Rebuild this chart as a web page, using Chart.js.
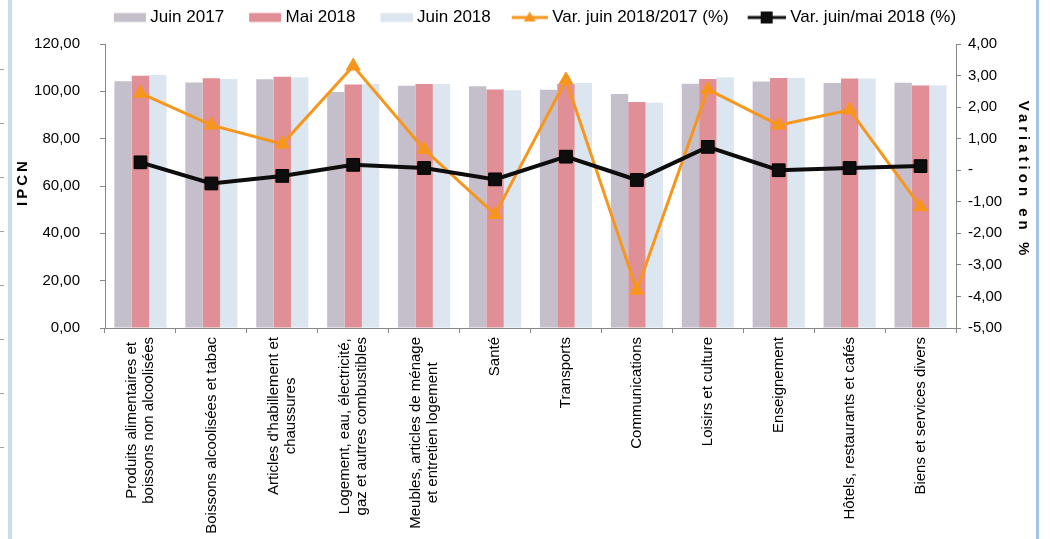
<!DOCTYPE html>
<html>
<head>
<meta charset="utf-8">
<script src="https://cdn.jsdelivr.net/npm/chart.js@4"></script>
<style>
  body { margin: 0; background: #fff; }
  .wrap { position: relative; width: 1050px; height: 539px; }
  .edge { position: absolute; top: 0; height: 539px; }
  .edge-left { left: 8px; width: 4px; background: #cadcf0; }
  .edge-right { left: 1036px; width: 3px; background: #a3c6e8; }
  .marks {
    position: absolute; left: 0; top: 69px; width: 4px; height: 390px;
    background: repeating-linear-gradient(to bottom, #a0a0a0 0px, #a0a0a0 1px, transparent 1px, transparent 54px);
  }
  canvas { position: absolute; left: 0; top: 0; }
</style>
</head>
<body>
<div class="wrap">
  <div class="edge edge-left"></div>
  <div class="edge edge-right"></div>
  <div class="marks"></div>
  <canvas id="ipcn" width="1050" height="539"></canvas>
</div>
<script>
// categories (x tick labels, split in lines as in the picture)
const categories = [
  ["Produits alimentaires et", "boissons non alcoolisées"],
  ["Boissons alcoolisées et tabac"],
  ["Articles d'habillement et", "chaussures"],
  ["Logement, eau, électricité,", "gaz et autres combustibles"],
  ["Meubles, articles de ménage", "et entretien logement"],
  ["Santé"],
  ["Transports"],
  ["Communications"],
  ["Loisirs et culture"],
  ["Enseignement"],
  ["Hôtels, restaurants et cafés"],
  ["Biens et services divers"]
];

// series values
const juin2017 = [104.3, 103.7, 105.1, 99.7, 102.4, 102.1, 100.7, 98.9, 103.2, 104.2, 103.5, 103.6];
const mai2018 = [106.6, 105.5, 106.2, 102.9, 103.1, 100.8, 103.1, 95.5, 105.2, 105.6, 105.4, 102.5];
const juin2018 = [106.9, 105.2, 105.9, 103.1, 103.1, 100.5, 103.5, 95.2, 106.0, 105.6, 105.4, 102.6];
const varAnnuelle = [2.44, 1.43, 0.83, 3.30, 0.66, -1.40, 2.86, -3.80, 2.56, 1.43, 1.91, -1.16];
const varMensuelle = [0.25, -0.42, -0.18, 0.17, 0.07, -0.29, 0.43, -0.31, 0.74, 0.00, 0.07, 0.13];

// series names and axis titles
const seriesNames = ["Juin 2017", "Mai 2018", "Juin 2018", "Var. juin 2018/2017 (%)", "Var. juin/mai 2018 (%)"];
const leftTitle = "IPCN";
const rightTitle = "Variation en %";

// colours
const grayBar = "#c5bfcb";
const redBar = "#e08f96";
const blueBar = "#dce6f0";
const orange = "#f7961d";
const black = "#0d0d0d";
const axisGray = "#878787";

const fontFamily = "'Liberation Sans', Arial, sans-serif";
Chart.defaults.font.family = fontFamily;
Chart.defaults.color = "#000";

// small legend pictures: bar swatch or line with marker
function legendIcon(kind, color, lead) {
  const c = document.createElement("canvas");
  c.width = 52;
  c.height = 16;
  const g = c.getContext("2d");
  g.fillStyle = color;
  g.strokeStyle = color;
  if (kind === "bar") {
    g.fillRect(lead, 3.5, 52 - lead, 9);
  } else {
    g.lineWidth = 3;
    g.beginPath();
    g.moveTo(lead, 8);
    g.lineTo(52, 8);
    g.stroke();
    const cx = lead + (52 - lead) / 2;
    g.beginPath();
    if (kind === "triangle") {
      g.moveTo(cx, 2);
      g.lineTo(cx + 6, 12);
      g.lineTo(cx - 6, 12);
      g.closePath();
    } else {
      g.rect(cx - 6, 2, 12, 12);
    }
    g.fill();
  }
  return c;
}

const legendIcons = [
  legendIcon("bar", grayBar, 20),
  legendIcon("bar", redBar, 20),
  legendIcon("bar", blueBar, 20),
  legendIcon("triangle", orange, 16),
  legendIcon("square", black, 14)
];

// push the plot down below the legend
const legendGap = {
  id: "legendGap",
  beforeInit(chart) {
    const fit = chart.legend.fit;
    chart.legend.fit = function () {
      fit.call(this);
      this.height += 8;
    };
  }
};

// rotated x labels, each line centred, and the two spaced axis titles
const labelsAndTitles = {
  id: "labelsAndTitles",
  afterDraw(chart) {
    const ctx = chart.ctx;
    const xs = chart.scales.x;
    const area = chart.chartArea;

    ctx.save();
    ctx.font = "15px " + fontFamily;
    ctx.fillStyle = "#000";
    ctx.textAlign = "center";
    ctx.textBaseline = "middle";
    categories.forEach((lines, i) => {
      const x = xs.getPixelForValue(i);
      const maxW = Math.max(...lines.map((l) => ctx.measureText(l).width));
      const cy = xs.top + 9 + maxW / 2;
      lines.forEach((line, j) => {
        ctx.save();
        ctx.translate(x + (j - (lines.length - 1) / 2) * 17.5, cy);
        ctx.rotate(-Math.PI / 2);
        ctx.fillText(line, 0, 0);
        ctx.restore();
      });
    });

    const midY = (area.top + area.bottom) / 2;
    ctx.font = "bold 15px " + fontFamily;
    ctx.letterSpacing = "3px";
    ctx.save();
    ctx.translate(23, midY - 4);
    ctx.rotate(-Math.PI / 2);
    ctx.fillText(leftTitle, 0, 0);
    ctx.restore();

    ctx.letterSpacing = "4px";
    ctx.save();
    ctx.translate(1023, midY - 6);
    ctx.rotate(Math.PI / 2);
    ctx.fillText(rightTitle, 0, 0);
    ctx.restore();
    ctx.restore();
  }
};

function frNumber(v) {
  return v.toFixed(2).replace(".", ",");
}

const ctx = document.getElementById("ipcn").getContext("2d");

new Chart(ctx, {
  type: "bar",
  data: {
    labels: categories.map((c) => c.join(" ")),
    datasets: [
      {
        label: seriesNames[0],
        data: juin2017,
        backgroundColor: grayBar,
        yAxisID: "y",
        categoryPercentage: 0.735,
        barPercentage: 1.0,
        order: 2
      },
      {
        label: seriesNames[1],
        data: mai2018,
        backgroundColor: redBar,
        yAxisID: "y",
        categoryPercentage: 0.735,
        barPercentage: 1.0,
        order: 2
      },
      {
        label: seriesNames[2],
        data: juin2018,
        backgroundColor: blueBar,
        yAxisID: "y",
        categoryPercentage: 0.735,
        barPercentage: 1.0,
        order: 2
      },
      {
        type: "line",
        label: seriesNames[3],
        data: varAnnuelle,
        yAxisID: "y1",
        borderColor: orange,
        backgroundColor: orange,
        borderWidth: 3,
        tension: 0,
        pointStyle: "triangle",
        pointRadius: 8,
        pointBorderWidth: 1,
        pointBackgroundColor: orange,
        pointBorderColor: orange,
        order: 1
      },
      {
        type: "line",
        label: seriesNames[4],
        data: varMensuelle,
        yAxisID: "y1",
        borderColor: black,
        backgroundColor: black,
        borderWidth: 4,
        tension: 0,
        pointStyle: "rect",
        pointRadius: 9,
        pointBorderWidth: 1,
        pointBackgroundColor: black,
        pointBorderColor: "#000",
        order: 0
      }
    ]
  },
  options: {
    responsive: false,
    animation: false,
    layout: { padding: { left: 4, right: 0, top: 0, bottom: 0 } },
    plugins: {
      tooltip: { enabled: false },
      legend: {
        position: "top",
        labels: {
          usePointStyle: true,
          pointStyleWidth: 44,
          padding: 9,
          color: "#000",
          font: { size: 17 },
          sort: (a, b) => a.datasetIndex - b.datasetIndex,
          generateLabels(chart) {
            const items = Chart.defaults.plugins.legend.labels.generateLabels(chart);
            items.forEach((it) => {
              it.pointStyle = legendIcons[it.datasetIndex];
            });
            return items;
          }
        }
      }
    },
    scales: {
      x: {
        offset: true,
        grid: { offset: true, drawOnChartArea: false, drawTicks: true, tickLength: 5, color: axisGray },
        border: { display: true, color: axisGray },
        ticks: { display: false },
        afterFit(scale) {
          scale.height = 211;
        }
      },
      y: {
        position: "left",
        min: 0,
        max: 120,
        grid: { drawOnChartArea: false, drawTicks: true, tickLength: 5, color: axisGray },
        border: { display: true, color: axisGray },
        ticks: {
          stepSize: 20,
          padding: 20,
          color: "#000",
          font: { size: 15 },
          callback: (v) => frNumber(v)
        },
        afterFit(scale) {
          scale.width = 101;
        }
      },
      y1: {
        position: "right",
        min: -5,
        max: 4,
        grid: { drawOnChartArea: false, drawTicks: true, tickLength: 5, color: axisGray },
        border: { display: true, color: axisGray },
        ticks: {
          stepSize: 1,
          padding: 7,
          color: "#000",
          font: { size: 15 },
          callback: (v) => (v === 0 ? "-" : frNumber(v))
        },
        afterFit(scale) {
          scale.width = 94;
        }
      }
    }
  },
  plugins: [legendGap, labelsAndTitles]
});
</script>
</body>
</html>
